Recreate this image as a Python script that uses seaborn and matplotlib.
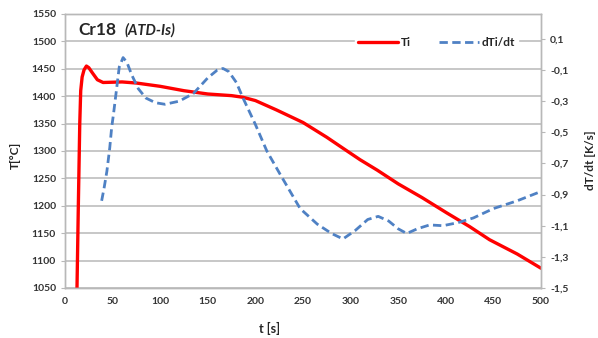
import matplotlib
matplotlib.use("Agg")
import matplotlib.pyplot as plt
import pandas as pd
import seaborn as sns

# Ti temperature curve
t_ti = [12.6, 14, 15.5, 16.5, 18, 20, 22.5, 25, 29, 34, 40, 60, 75, 100, 125,
        150, 175, 187, 200, 222, 250, 275, 292, 310, 328, 350, 375, 401, 425,
        446, 475, 500]
ti = [1050, 1200, 1350, 1410, 1435, 1448, 1455, 1452, 1442, 1430, 1425, 1426,
      1424, 1418, 1410, 1404, 1401, 1398, 1392, 1375, 1352, 1325, 1305, 1284,
      1265, 1240, 1215, 1187, 1162, 1138, 1112, 1086]

# dTi/dt curve
t_d = [38.5, 41, 44, 47, 49, 51, 54, 57, 61, 65, 70, 77, 85, 95, 105, 120, 135,
       150, 160, 166, 172, 180, 187, 200, 212, 226, 247, 265, 280, 292, 305,
       318, 329, 340, 350, 359, 370, 383, 397, 413, 429, 450, 475, 500]
dti = [-0.94, -0.86, -0.75, -0.60, -0.47, -0.38, -0.23, -0.08, -0.02, -0.05,
       -0.13, -0.22, -0.28, -0.31, -0.32, -0.30, -0.25, -0.15, -0.10, -0.09,
       -0.11, -0.18, -0.28, -0.45, -0.62, -0.77, -0.99, -1.09, -1.15, -1.185,
       -1.13, -1.06, -1.04, -1.07, -1.12, -1.15, -1.12, -1.095, -1.10, -1.08,
       -1.05, -0.99, -0.94, -0.88]

x_ticks = list(range(0, 501, 50))
left_ticks = list(range(1050, 1551, 50))
right_ticks = [-1.5, -1.3, -1.1, -0.9, -0.7, -0.5, -0.3, -0.1, 0.1]

df_ti = pd.DataFrame({"t": t_ti, "Ti": ti})
df_d = pd.DataFrame({"t": t_d, "dTi/dt": dti})

sns.set_style("white")
plt.rcParams["font.family"] = ["Lato", "DejaVu Sans"]
plt.rcParams["font.weight"] = "bold"

fig = plt.figure(figsize=(5.98, 3.38), dpi=100)
ax = fig.add_axes([0.1087, 0.148, 0.796, 0.8106])
ax2 = ax.twinx()

red = "#ff0000"
blue = "#4f81c4"
grey = "#b8b8b8"

sns.lineplot(data=df_ti, x="t", y="Ti", ax=ax, color=red, lw=2.4, label="Ti",
             legend=False)
sns.lineplot(data=df_d, x="t", y="dTi/dt", ax=ax2, color=blue, lw=2.0,
             label="dTi/dt", legend=False)
ax2.lines[0].set_linestyle((0, (3, 1.6)))

ax.set_xlim(0, 500)
ax.set_ylim(1050, 1550)
ax2.set_ylim(-1.5, 0.26)
ax.set_xticks(x_ticks)
ax.set_yticks(left_ticks)
ax2.set_yticks(right_ticks)
ax2.set_yticklabels([f"{v:.1f}".replace(".", ",") for v in right_ticks])

ax.yaxis.grid(True, color=grey, lw=1.1)
ax.xaxis.grid(False)
ax2.grid(False)
for a in (ax, ax2):
    for s in a.spines.values():
        s.set_color(grey)
        s.set_linewidth(1)
    a.tick_params(labelsize=7.5, colors="#333333", length=3, width=0.8)
    for lab in a.get_yticklabels() + a.get_xticklabels():
        lab.set_fontweight("bold")
ax.tick_params(axis="both", color=grey)
ax2.tick_params(axis="y", color=grey)

ax.set_xlabel("t [s]", fontsize=9, fontweight="bold")
ax.xaxis.set_label_coords(0.43, -0.125)
ax.set_ylabel("T[°C]", fontsize=8.5, fontweight="bold")
ax.yaxis.set_label_coords(-0.092, 0.485)
ax2.set_ylabel("dT/dt [K/s]", fontsize=8.5, fontweight="bold")
ax2.yaxis.set_label_coords(1.093, 0.467)

ax.text(0.028, 0.94, "Cr18", transform=ax.transAxes, fontsize=12.5,
        fontweight="bold", va="center", ha="left")
ax.text(0.126, 0.94, "(ATD-Is)", transform=ax.transAxes, fontsize=10.5,
        fontweight="bold", style="italic", va="center", ha="left")

handles = ax.get_lines()[:1] + ax2.get_lines()[:1]
leg = ax2.legend(handles, ["Ti", "dTi/dt"], ncol=2, loc="upper right",
                 bbox_to_anchor=(0.965, 0.95), frameon=True, fontsize=8.5,
                 handlelength=3.4, handletextpad=0.2, columnspacing=2.4,
                 borderpad=0.3)
leg.get_frame().set_facecolor("white")
leg.get_frame().set_edgecolor("white")
leg.get_frame().set_alpha(1)
for txt in leg.get_texts():
    txt.set_fontweight("bold")

fig.savefig("out.png", dpi=100)
